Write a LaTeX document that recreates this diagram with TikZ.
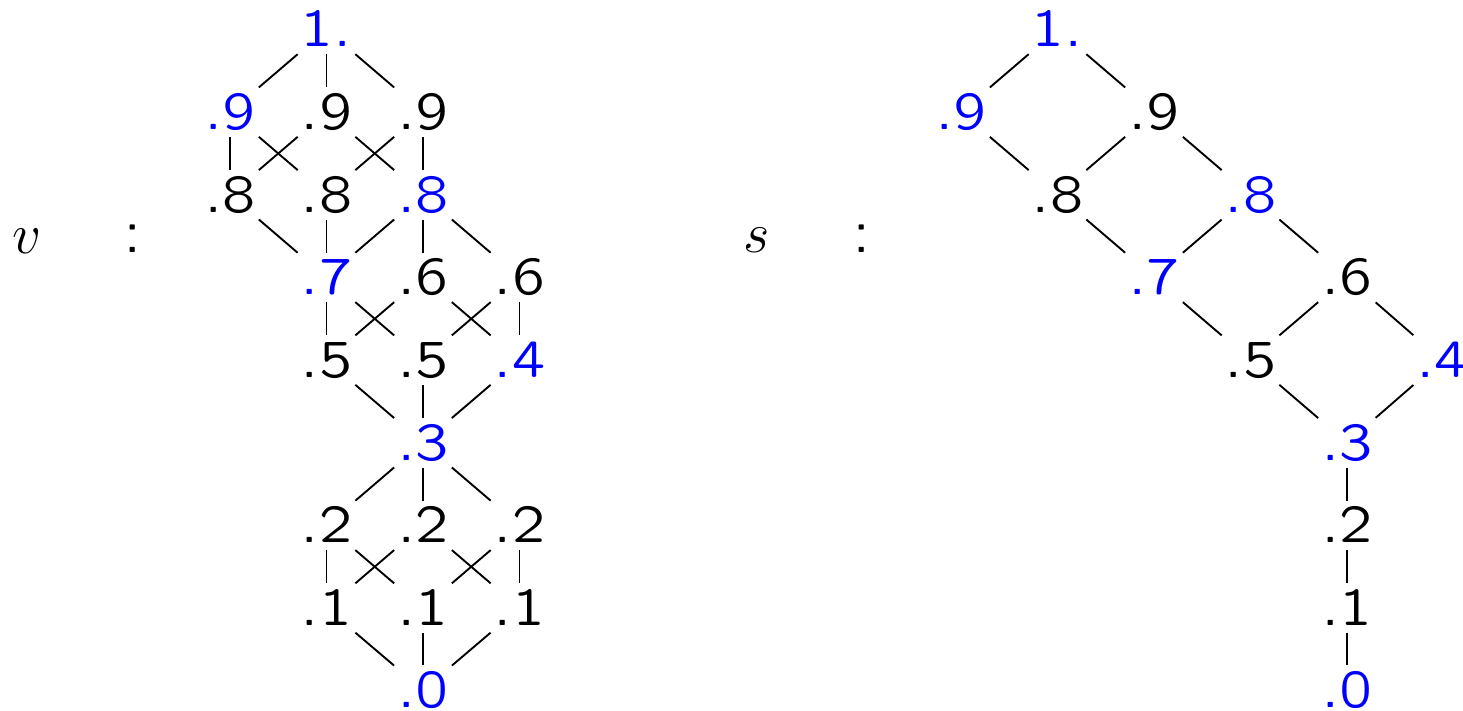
\documentclass[tikz,border=0pt]{standalone}
\usepackage{fix-cm}
\definecolor{lblue}{RGB}{0,0,255}
\font\qf=cmssq8 at 53pt
\edef\dhv{\the\fontcharht\qf`9}
\newcommand{\dfont}{\qf}
\newcommand{\mfont}{\fontsize{57}{68}\selectfont}
\tikzset{
  lat/.style={inner sep=0pt, text height=\dhv, text depth=0pt, font=\dfont},
  hi/.style={lat, text=lblue},
  dedge/.style={line width=1.9pt, black, shorten <=38pt, shorten >=38pt},
  vedge/.style={line width=1.9pt, black, shorten <=24.75pt, shorten >=24.75pt},
  lbl/.style={anchor=base, inner sep=0pt, font=\mfont},
  colon/.style={anchor=base, inner sep=0pt, font=\dfont},
}
\begin{document}
\begin{tikzpicture}[x=1pt,y=-1pt]
\useasboundingbox (0,0) rectangle (1463,711);
% labels
\node[lbl] (lv) at (27.5,254) {$v$};
\node[colon] (cl) at (132.5,252) {:};
\node[lbl] (ls) at (757,252) {$s$};
\node[colon] (cr) at (862,252) {:};
% left lattice
\node[hi]  (atop) at (326.5,29.5)   {1.};
\node[hi]  (a9l)  at (230,112.15)   {.9};
\node[lat] (a9m)  at (326.5,112.15) {.9};
\node[lat] (a9r)  at (423,112.15)   {.9};
\node[lat] (a8l)  at (230,194.8)    {.8};
\node[lat] (a8m)  at (326.5,194.8)  {.8};
\node[hi]  (a8r)  at (423,194.8)    {.8};
\node[hi]  (a7)   at (326.5,277.45) {.7};
\node[lat] (a6m)  at (423,277.45)   {.6};
\node[lat] (a6r)  at (519.5,277.45) {.6};
\node[lat] (a5l)  at (326.5,360.1)  {.5};
\node[lat] (a5m)  at (423,360.1)    {.5};
\node[hi]  (a4)   at (519.5,360.1)  {.4};
\node[hi]  (a3)   at (423,442.75)   {.3};
\node[lat] (a2l)  at (326.5,525.4)  {.2};
\node[lat] (a2m)  at (423,525.4)    {.2};
\node[lat] (a2r)  at (519.5,525.4)  {.2};
\node[lat] (a1l)  at (326.5,608.05) {.1};
\node[lat] (a1m)  at (423,608.05)   {.1};
\node[lat] (a1r)  at (519.5,608.05) {.1};
\node[hi]  (a0)   at (423,690.2)    {.0};
\foreach \u/\w in {atop/a9l,atop/a9r,
  a9l/a8m,a9m/a8l,a9m/a8r,a9r/a8m,
  a8l/a7,a8r/a7,a8r/a6r,
  a7/a5m,a6m/a5l,a6m/a4,a6r/a5m,
  a5l/a3,a4/a3,
  a3/a2l,a3/a2r,
  a2l/a1m,a2m/a1l,a2m/a1r,a2r/a1m,
  a1l/a0,a1r/a0}
  \draw[dedge] (\u.center) -- (\w.center);
\foreach \u/\w in {atop/a9m,a9l/a8l,a9r/a8r,a8m/a7,a8r/a6m,a7/a5l,a6r/a4,
  a5m/a3,a3/a2m,a2l/a1l,a2r/a1r,a1m/a0}
  \draw[vedge] (\u.center) -- (\w.center);
% right lattice
\node[hi]  (btop) at (1057.5,29.5)   {1.};
\node[hi]  (b9l)  at (961,112.15)    {.9};
\node[lat] (b9r)  at (1154,112.15)   {.9};
\node[lat] (b8l)  at (1057.5,194.8)  {.8};
\node[hi]  (b8r)  at (1250.5,194.8)  {.8};
\node[hi]  (b7)   at (1154,277.45)   {.7};
\node[lat] (b6)   at (1347,277.45)   {.6};
\node[lat] (b5)   at (1250.5,360.1)  {.5};
\node[hi]  (b4)   at (1442,360.1)    {.4};
\node[hi]  (b3)   at (1347,442.75)   {.3};
\node[lat] (b2)   at (1347,525.4)    {.2};
\node[lat] (b1)   at (1347,608.05)   {.1};
\node[hi]  (b0)   at (1347,690.2)    {.0};
\foreach \u/\w in {btop/b9l,btop/b9r,b9l/b8l,b9r/b8l,b9r/b8r,
  b8l/b7,b8r/b7,b8r/b6,b7/b5,b6/b5,b6/b4,b5/b3,b4/b3}
  \draw[dedge] (\u.center) -- (\w.center);
\foreach \u/\w in {b3/b2,b2/b1,b1/b0}
  \draw[vedge] (\u.center) -- (\w.center);
\end{tikzpicture}
\end{document}
